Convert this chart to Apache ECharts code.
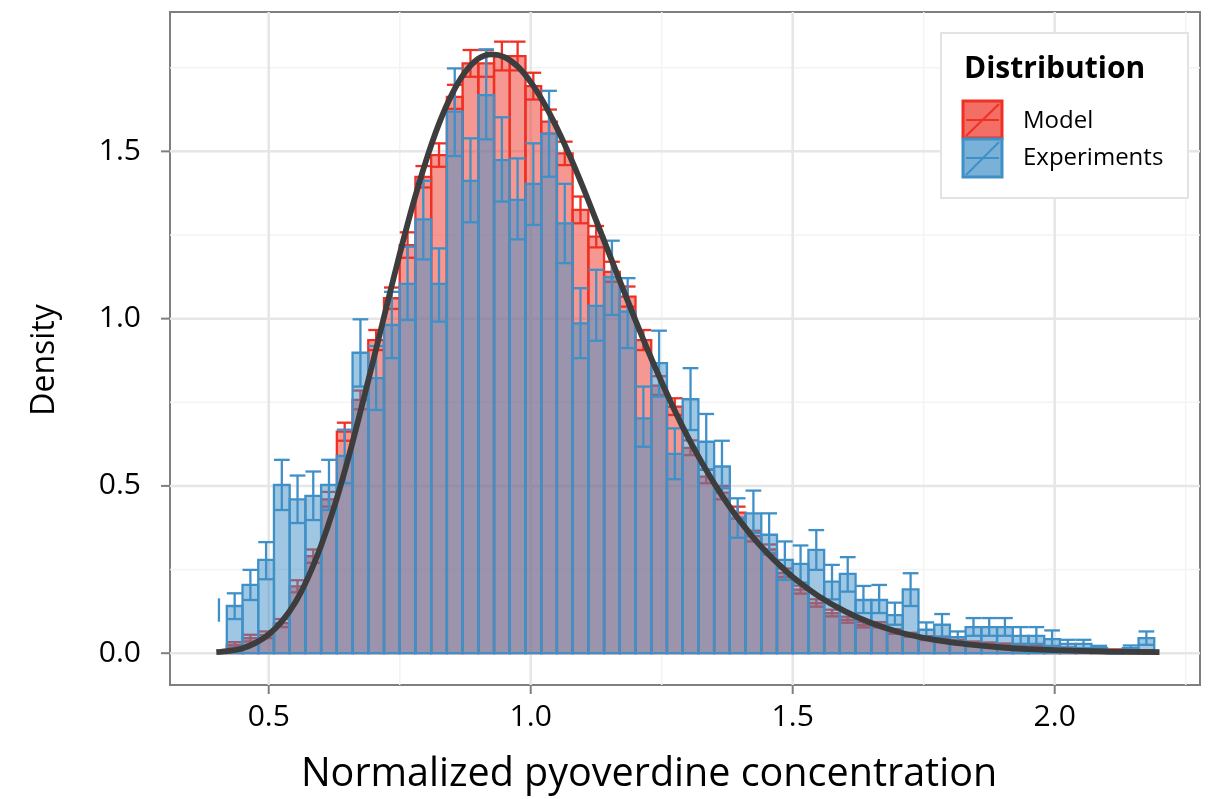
<!DOCTYPE html>
<html>
<head>
<meta charset="utf-8">
<script src="https://cdn.jsdelivr.net/npm/echarts@6/dist/echarts.min.js"></script>
<style>
html,body{margin:0;padding:0;background:#fff;}
#chart{width:1213px;height:799px;}
</style>
</head>
<body>
<div id="chart"></div>
<script>
// ---------------- data ----------------
const binWidth = 0.03;
const binCenters = [0.405, 0.435, 0.465, 0.495, 0.525, 0.555, 0.585, 0.615, 0.645, 0.675,
  0.705, 0.735, 0.765, 0.795, 0.825, 0.855, 0.885, 0.915, 0.945, 0.975,
  1.005, 1.035, 1.065, 1.095, 1.125, 1.155, 1.185, 1.215, 1.245, 1.275,
  1.305, 1.335, 1.365, 1.395, 1.425, 1.455, 1.485, 1.515, 1.545, 1.575,
  1.605, 1.635, 1.665, 1.695, 1.725, 1.755, 1.785, 1.815, 1.845, 1.875,
  1.905, 1.935, 1.965, 1.995, 2.025, 2.055, 2.085, 2.115, 2.145, 2.175];

const modelMean = [null, 0.025, 0.045, 0.055, 0.09, 0.2, 0.29, 0.46, 0.662, 0.757,
  0.936, 1.061, 1.22, 1.424, 1.489, 1.663, 1.763, 1.763, 1.785, 1.785,
  1.695, 1.589, 1.494, 1.325, 1.245, 1.14, 1.066, 0.936, 0.80, 0.737,
  0.614, 0.528, 0.48, 0.42, 0.35, 0.31, 0.24, 0.19, 0.15, 0.12,
  0.10, 0.085, 0.085, 0.065, 0.055, 0.045, 0.04, 0.035, 0.03, 0.028,
  0.025, 0.02, 0.018, 0.016, 0.014, 0.012, 0.01, 0.009, 0.008, 0.007];
const modelErr = [null, 0.008, 0.01, 0.01, 0.012, 0.018, 0.02, 0.022, 0.027, 0.028,
  0.03, 0.032, 0.038, 0.032, 0.035, 0.036, 0.04, 0.04, 0.043, 0.043,
  0.04, 0.036, 0.035, 0.04, 0.032, 0.03, 0.03, 0.03, 0.028, 0.025,
  0.022, 0.02, 0.02, 0.018, 0.016, 0.015, 0.013, 0.012, 0.011, 0.01,
  0.009, 0.008, 0.008, 0.007, 0.006, 0.006, 0.005, 0.005, 0.005, 0.004,
  0.004, 0.004, 0.004, 0.003, 0.003, 0.003, 0.003, 0.002, 0.002, 0.002];

const expMean = [null, 0.141, 0.204, 0.279, 0.503, 0.46, 0.47, 0.503, 0.59, 0.898,
  0.822, 0.981, 1.104, 1.297, 1.104, 1.619, 1.412, 1.668, 1.474, 1.355,
  1.403, 1.552, 1.285, 0.986, 1.038, 1.124, 1.021, 0.702, 0.867, 0.596,
  0.759, 0.632, 0.558, 0.405, 0.418, 0.354, 0.279, 0.267, 0.309, 0.214,
  0.237, 0.159, 0.159, 0.114, 0.191, 0.07, 0.085, 0.048, 0.078, 0.078,
  0.078, 0.052, 0.052, 0.042, 0.028, 0.028, 0.015, 0, 0.015, 0.045];
const expHigh = [0.164, 0.179, 0.249, 0.332, 0.578, 0.531, 0.543, 0.578, 0.668, 0.998,
  0.918, 1.08, 1.215, 1.412, 1.21, 1.748, 1.539, 1.805, 1.602, 1.479,
  1.524, 1.681, 1.403, 1.091, 1.146, 1.233, 1.121, 0.797, 0.964, 0.672,
  0.852, 0.715, 0.635, 0.463, 0.486, 0.418, 0.334, 0.322, 0.368, 0.264,
  0.287, 0.201, 0.204, 0.151, 0.239, 0.092, 0.117, 0.065, 0.105, 0.105,
  0.105, 0.078, 0.078, 0.068, 0.04, 0.04, 0.022, 0, 0.023, 0.065];
const expLow = [0.094, 0.102, 0.159, 0.221, 0.428, 0.389, 0.398, 0.428, 0.508, 0.797,
  0.727, 0.882, 0.996, 1.177, 0.991, 1.486, 1.288, 1.536, 1.35, 1.237,
  1.28, 1.424, 1.166, 0.882, 0.934, 1.011, 0.912, 0.617, 0.767, 0.52,
  0.667, 0.55, 0.493, 0.345, 0.359, 0.299, 0.219, 0.211, 0.249, 0.161,
  0.184, 0.12, 0.12, 0.085, 0.141, 0.048, 0.05, 0.035, 0.052, 0.052,
  0.052, 0.028, 0.028, 0.022, 0.015, 0.015, 0.008, 0, 0.008, 0.025];

const curveX = [0.400, 0.425, 0.450, 0.475, 0.500, 0.525, 0.550, 0.575, 0.600, 0.625,
  0.650, 0.675, 0.700, 0.725, 0.750, 0.775, 0.800, 0.825, 0.850, 0.875,
  0.900, 0.925, 0.950, 0.975, 1.000, 1.025, 1.050, 1.075, 1.100, 1.125,
  1.150, 1.175, 1.200, 1.225, 1.250, 1.275, 1.300, 1.325, 1.350, 1.375,
  1.400, 1.425, 1.450, 1.475, 1.500, 1.55, 1.60, 1.65, 1.70, 1.75,
  1.80, 1.85, 1.90, 1.95, 2.00, 2.10, 2.20];
const curveY = [0.003, 0.007, 0.015, 0.031, 0.056, 0.095, 0.150, 0.226, 0.322, 0.437,
  0.572, 0.722, 0.878, 1.037, 1.193, 1.340, 1.471, 1.583, 1.672, 1.737,
  1.777, 1.790, 1.782, 1.754, 1.707, 1.645, 1.570, 1.485, 1.392, 1.293,
  1.193, 1.093, 0.995, 0.900, 0.810, 0.725, 0.646, 0.574, 0.508, 0.448,
  0.394, 0.345, 0.302, 0.263, 0.228, 0.170, 0.125, 0.090, 0.064, 0.046,
  0.033, 0.024, 0.017, 0.012, 0.009, 0.005, 0.003];

const xTicks = [0.5, 1.0, 1.5, 2.0];
const xMinor = [0.75, 1.25, 1.75, 2.25];
const yTicks = [0.0, 0.5, 1.0, 1.5];
const yMinor = [0.25, 0.75, 1.25, 1.75];
const xLimits = [0.3116, 2.2773];
const yLimits = [-0.0951, 1.9166];

const seriesNames = ['Model', 'Experiments'];
const legendTitle = 'Distribution';
const xTitle = 'Normalized pyoverdine concentration';
const yTitle = 'Density';

// ---------------- styles ----------------
const RED = '#EE3124';
const BLUE = '#4090C8';
const RED_FILL = 'rgba(238,49,36,0.5)';
const BLUE_FILL = 'rgba(64,144,200,0.5)';
const FONT = '"Open Sans", "DejaVu Sans", sans-serif';
const AXIS_GRAY = '#7f7f7f';

// ---------------- helpers ----------------
function barItem(color, fill) {
  return function (params, api) {
    const x = api.value(0), y = api.value(1);
    if (y === null || y === undefined || isNaN(y)) return null;
    const p0 = api.coord([x - binWidth / 2, y]);
    const p1 = api.coord([x + binWidth / 2, 0]);
    return {
      type: 'rect',
      shape: { x: p0[0], y: p0[1], width: p1[0] - p0[0], height: p1[1] - p0[1] },
      style: { fill: fill, stroke: color, lineWidth: 2.3 }
    };
  };
}
function errItem(color) {
  return function (params, api) {
    const x = api.value(0), lo = api.value(1), hi = api.value(2), m = api.value(3);
    if (isNaN(lo) || isNaN(hi)) return null;
    const top = api.coord([x, hi]);
    const bot = api.coord([x, lo]);
    const l = api.coord([x - binWidth / 2, hi])[0];
    const r = api.coord([x + binWidth / 2, hi])[0];
    const st = { stroke: color, lineWidth: 2.3 };
    const children = [{ type: 'line', shape: { x1: top[0], y1: top[1], x2: bot[0], y2: bot[1] }, style: st }];
    if (!isNaN(m)) {
      children.push({ type: 'line', shape: { x1: l, y1: top[1], x2: r, y2: top[1] }, style: st });
      children.push({ type: 'line', shape: { x1: l, y1: bot[1], x2: r, y2: bot[1] }, style: st });
    }
    return { type: 'group', children: children };
  };
}
function gridItem(dir, color, width) {
  return function (params, api) {
    const v = api.value(0);
    let a, b;
    if (dir === 'x') { a = api.coord([v, yLimits[0]]); b = api.coord([v, yLimits[1]]); }
    else { a = api.coord([xLimits[0], v]); b = api.coord([xLimits[1], v]); }
    return { type: 'line', shape: { x1: a[0], y1: a[1], x2: b[0], y2: b[1] }, style: { stroke: color, lineWidth: width } };
  };
}
function tickItem(dir) {
  return function (params, api) {
    const v = api.value(0);
    if (dir === 'x') {
      const p = api.coord([v, yLimits[0]]);
      return { type: 'line', shape: { x1: p[0], y1: p[1] + 1, x2: p[0], y2: p[1] + 9 }, style: { stroke: AXIS_GRAY, lineWidth: 2 } };
    }
    const p = api.coord([xLimits[0], v]);
    return { type: 'line', shape: { x1: p[0] - 9, y1: p[1], x2: p[0] - 1, y2: p[1] }, style: { stroke: AXIS_GRAY, lineWidth: 2 } };
  };
}

const modelBars = binCenters.map((x, i) => [x, modelMean[i]]);
const modelErrs = binCenters.map((x, i) => modelMean[i] === null ? [x, NaN, NaN, NaN] : [x, modelMean[i] - modelErr[i], modelMean[i] + modelErr[i], modelMean[i]]);
const expBars = binCenters.map((x, i) => [x, expMean[i]]);
const expErrs = binCenters.map((x, i) => [x, expLow[i], expHigh[i], expMean[i] === null ? NaN : expMean[i]]);
const curveData = curveX.map((x, i) => [x, curveY[i]]);

const chart = echarts.init(document.getElementById('chart'), null, { renderer: 'canvas' });

const option = {
  backgroundColor: '#ffffff',
  animation: false,
  grid: { left: 170, top: 12, width: 1030, height: 673, show: true, borderColor: AXIS_GRAY, borderWidth: 2, backgroundColor: 'transparent', containLabel: false },
  xAxis: {
    type: 'value', min: xLimits[0], max: xLimits[1],
    axisLine: { show: false },
    axisTick: { show: false },
    minorTick: { show: false },
    axisLabel: { customValues: xTicks, formatter: v => v.toFixed(1), fontSize: 30, color: '#000', margin: 17, fontFamily: FONT },
    splitLine: { show: false },
    minorSplitLine: { show: false },
    splitArea: { show: false }
  },
  yAxis: {
    type: 'value', min: yLimits[0], max: yLimits[1],
    axisLine: { show: false },
    axisTick: { show: false },
    minorTick: { show: false },
    axisLabel: { customValues: yTicks, formatter: v => v.toFixed(1), fontSize: 30, color: '#000', margin: 29, fontFamily: FONT },
    splitLine: { show: false },
    minorSplitLine: { show: false },
    splitArea: { show: false }
  },
  graphic: [
    { type: 'text', z: 100, x: 649, y: 775, style: { text: xTitle, font: '39.5px ' + FONT, fill: '#000', textAlign: 'center', textVerticalAlign: 'middle' } },
    { type: 'text', z: 100, x: 45, y: 360, rotation: Math.PI / 2, style: { text: yTitle, font: '32px ' + FONT, fill: '#000', textAlign: 'center', textVerticalAlign: 'middle' } },
    { type: 'rect', z: 100, shape: { x: 941, y: 33, width: 247, height: 165 }, style: { fill: '#fff', stroke: '#e3e3e3', lineWidth: 2 } },
    { type: 'text', z: 101, x: 964, y: 69, style: { text: legendTitle, font: 'bold 30px ' + FONT, fill: '#000', textVerticalAlign: 'middle' } },
    { type: 'rect', z: 101, shape: { x: 963, y: 101, width: 39, height: 37 }, style: { fill: 'rgba(238,49,36,0.7)', stroke: RED, lineWidth: 3 } },
    { type: 'line', z: 102, shape: { x1: 966, y1: 120, x2: 999, y2: 120 }, style: { stroke: RED, lineWidth: 2 } },
    { type: 'line', z: 102, shape: { x1: 966, y1: 136, x2: 999, y2: 104 }, style: { stroke: RED, lineWidth: 2 } },
    { type: 'rect', z: 101, shape: { x: 963, y: 139, width: 39, height: 38 }, style: { fill: 'rgba(64,144,200,0.7)', stroke: BLUE, lineWidth: 3 } },
    { type: 'line', z: 102, shape: { x1: 966, y1: 158, x2: 999, y2: 158 }, style: { stroke: BLUE, lineWidth: 2 } },
    { type: 'line', z: 102, shape: { x1: 966, y1: 175, x2: 999, y2: 142 }, style: { stroke: BLUE, lineWidth: 2 } },
    { type: 'text', z: 101, x: 1023, y: 121, style: { text: seriesNames[0], font: '24px ' + FONT, fill: '#000', textVerticalAlign: 'middle' } },
    { type: 'text', z: 101, x: 1023, y: 158, style: { text: seriesNames[1], font: '24px ' + FONT, fill: '#000', textVerticalAlign: 'middle' } }
  ],
  series: [
    { type: 'custom', name: 'gridXMinor', renderItem: gridItem('x', '#f3f3f3', 1.5), data: xMinor.map(v => [v]), z: 0, silent: true, clip: true },
    { type: 'custom', name: 'gridYMinor', renderItem: gridItem('y', '#f3f3f3', 1.5), data: yMinor.map(v => [v]), z: 0, silent: true, clip: true },
    { type: 'custom', name: 'gridXMajor', renderItem: gridItem('x', '#e6e6e6', 2.5), data: xTicks.map(v => [v]), z: 0, silent: true, clip: true },
    { type: 'custom', name: 'gridYMajor', renderItem: gridItem('y', '#e6e6e6', 2.5), data: yTicks.map(v => [v]), z: 0, silent: true, clip: true },
    { type: 'custom', name: 'ticksX', renderItem: tickItem('x'), data: xTicks.map(v => [v]), z: 1, silent: true, clip: false },
    { type: 'custom', name: 'ticksY', renderItem: tickItem('y'), data: yTicks.map(v => [v]), z: 1, silent: true, clip: false },
    { type: 'custom', name: seriesNames[0], renderItem: barItem(RED, RED_FILL), data: modelBars, z: 2, clip: true },
    { type: 'custom', name: seriesNames[0] + ' err', renderItem: errItem(RED), data: modelErrs, z: 3, clip: true },
    { type: 'custom', name: seriesNames[1], renderItem: barItem(BLUE, BLUE_FILL), data: expBars, z: 4, clip: true },
    { type: 'custom', name: seriesNames[1] + ' err', renderItem: errItem(BLUE), data: expErrs, z: 5, clip: true },
    { type: 'line', name: 'fit', data: curveData, smooth: 0.3, symbol: 'none', z: 6,
      lineStyle: { color: '#3d3d3d', width: 5.8, cap: 'butt' } }
  ]
};
chart.setOption(option);
</script>
</body>
</html>
